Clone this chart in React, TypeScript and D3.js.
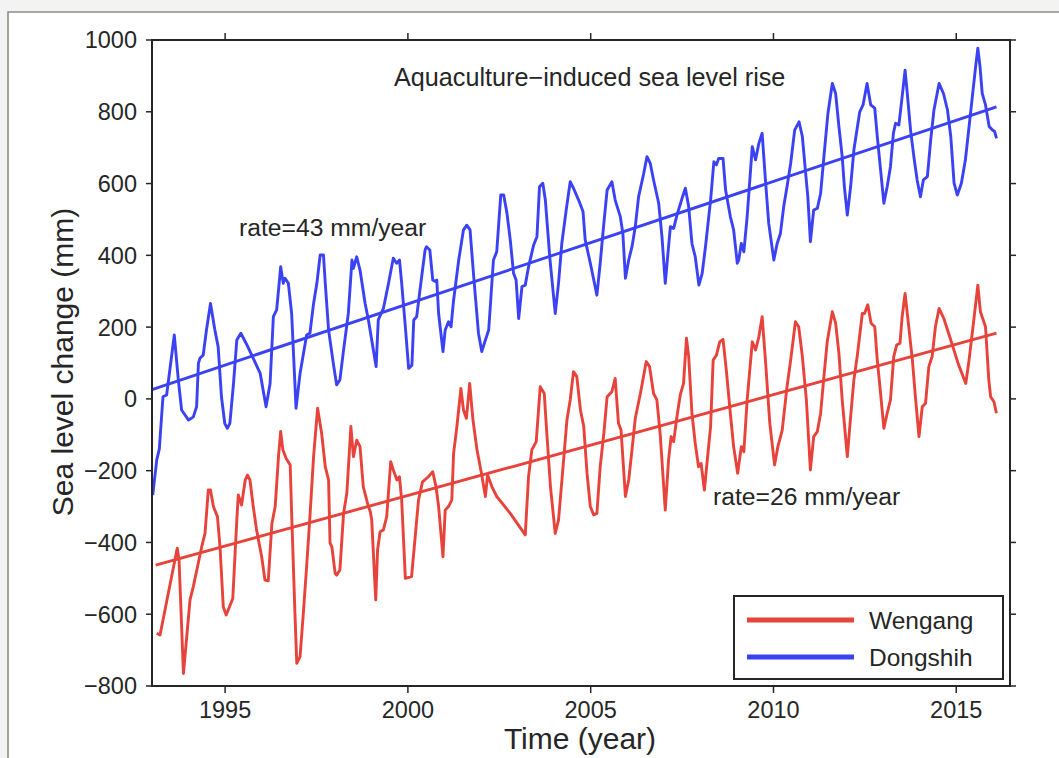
import React from 'react'
import * as d3 from 'd3'

// [decimal year, mm] vertices
const dongshih: [number, number][] = [
  [1993.02, -268], [1993.13, -170], [1993.2, -140], [1993.3, 6], [1993.4, 11], [1993.61, 178],
  [1993.72, 53], [1993.81, -31], [1994.0, -59], [1994.13, -50], [1994.22, -22], [1994.27, 99],
  [1994.31, 113], [1994.4, 122], [1994.49, 192], [1994.6, 266], [1994.72, 192], [1994.81, 145],
  [1994.9, 6], [1994.99, -68], [1995.06, -82], [1995.13, -68], [1995.23, 43], [1995.32, 164],
  [1995.43, 183], [1995.6, 150], [1995.77, 113], [1995.96, 71], [1996.12, -22], [1996.23, 43],
  [1996.32, 229], [1996.41, 248], [1996.52, 368], [1996.59, 322], [1996.64, 336], [1996.73, 322],
  [1996.82, 238], [1996.94, -26], [1997.05, 71], [1997.23, 178], [1997.32, 183], [1997.42, 266],
  [1997.51, 322], [1997.6, 401], [1997.69, 401], [1997.74, 322], [1997.83, 192], [1997.96, 99],
  [1998.05, 39], [1998.14, 53], [1998.24, 136], [1998.37, 238], [1998.47, 387], [1998.51, 364],
  [1998.6, 396], [1998.69, 359], [1998.83, 266], [1998.92, 220], [1999.01, 164], [1999.13, 90],
  [1999.19, 220], [1999.33, 252], [1999.47, 322], [1999.6, 392], [1999.69, 378], [1999.77, 387],
  [1999.83, 322], [1999.93, 201], [2000.02, 85], [2000.11, 94], [2000.16, 220], [2000.24, 229],
  [2000.33, 303], [2000.47, 415], [2000.51, 424], [2000.6, 415], [2000.68, 331], [2000.75, 327],
  [2000.79, 331], [2000.84, 238], [2000.96, 132], [2001.02, 192], [2001.11, 215], [2001.18, 201],
  [2001.25, 275], [2001.39, 387], [2001.52, 471], [2001.61, 484], [2001.7, 471], [2001.8, 341],
  [2001.93, 183], [2002.02, 132], [2002.12, 164], [2002.21, 192], [2002.34, 387], [2002.43, 410],
  [2002.54, 568], [2002.62, 568], [2002.71, 517], [2002.8, 443], [2002.89, 350], [2002.96, 331],
  [2003.03, 224], [2003.12, 313], [2003.21, 317], [2003.3, 368], [2003.44, 429], [2003.53, 452],
  [2003.6, 591], [2003.69, 601], [2003.76, 554], [2003.88, 396], [2004.03, 238], [2004.12, 322],
  [2004.21, 433], [2004.33, 526], [2004.44, 605], [2004.53, 587], [2004.67, 554], [2004.79, 522],
  [2004.85, 443], [2004.99, 378], [2005.17, 289], [2005.26, 378], [2005.36, 489], [2005.45, 582],
  [2005.58, 605], [2005.67, 554], [2005.81, 508], [2005.88, 461], [2005.95, 336], [2006.04, 387],
  [2006.13, 424], [2006.22, 480], [2006.31, 563], [2006.45, 628], [2006.54, 675], [2006.63, 656],
  [2006.72, 610], [2006.86, 545], [2006.95, 452], [2007.04, 322], [2007.13, 424], [2007.18, 480],
  [2007.27, 475], [2007.36, 512], [2007.5, 559], [2007.59, 587], [2007.68, 536], [2007.77, 433],
  [2007.86, 396], [2007.96, 317], [2008.05, 350], [2008.14, 424], [2008.28, 554], [2008.37, 661],
  [2008.44, 652], [2008.5, 670], [2008.62, 670], [2008.69, 582], [2008.82, 508], [2008.91, 471],
  [2009.01, 378], [2009.05, 387], [2009.12, 433], [2009.19, 410], [2009.28, 508], [2009.42, 703],
  [2009.51, 666], [2009.6, 712], [2009.69, 740], [2009.78, 610], [2009.87, 489], [2010.01, 387],
  [2010.1, 433], [2010.19, 461], [2010.28, 536], [2010.37, 591], [2010.47, 656], [2010.58, 749],
  [2010.7, 772], [2010.79, 731], [2010.88, 629], [2010.94, 563], [2011.01, 438], [2011.1, 526],
  [2011.2, 531], [2011.29, 573], [2011.38, 675], [2011.49, 796], [2011.61, 879], [2011.7, 851],
  [2011.79, 759], [2011.88, 675], [2011.94, 591], [2012.02, 512], [2012.11, 591], [2012.2, 694],
  [2012.36, 800], [2012.45, 819], [2012.56, 879], [2012.66, 819], [2012.77, 810], [2012.84, 731],
  [2012.93, 638], [2013.02, 545], [2013.11, 591], [2013.2, 647], [2013.28, 740], [2013.34, 768],
  [2013.43, 763], [2013.52, 842], [2013.6, 916], [2013.66, 851], [2013.75, 749], [2013.84, 675],
  [2013.93, 610], [2014.02, 563], [2014.1, 610], [2014.21, 619], [2014.3, 721], [2014.39, 805],
  [2014.53, 879], [2014.65, 851], [2014.76, 805], [2014.85, 731], [2014.94, 601], [2015.03, 568],
  [2015.14, 601], [2015.25, 666], [2015.37, 777], [2015.44, 842], [2015.53, 926], [2015.59, 977],
  [2015.65, 926], [2015.71, 851], [2015.8, 819], [2015.9, 759], [2015.99, 749], [2016.05, 745],
  [2016.1, 726],
]

const wengang: [number, number][] = [
  [1993.13, -653], [1993.22, -658], [1993.69, -416], [1993.74, -449], [1993.86, -765], [1994.04, -560],
  [1994.13, -523], [1994.36, -412], [1994.45, -375], [1994.54, -254], [1994.6, -254], [1994.68, -300],
  [1994.79, -328], [1994.86, -412], [1994.95, -579], [1995.03, -602], [1995.12, -579], [1995.21, -556],
  [1995.32, -337], [1995.36, -268], [1995.45, -296], [1995.55, -226], [1995.61, -212], [1995.68, -226],
  [1995.77, -300], [1995.86, -365], [1996.0, -440], [1996.09, -505], [1996.18, -507], [1996.28, -347],
  [1996.37, -300], [1996.46, -161], [1996.52, -91], [1996.58, -142], [1996.67, -166], [1996.78, -184],
  [1996.82, -319], [1996.91, -597], [1996.96, -737], [1997.05, -718], [1997.14, -597], [1997.23, -467],
  [1997.32, -328], [1997.42, -161], [1997.53, -26], [1997.64, -96], [1997.74, -189], [1997.83, -226],
  [1997.87, -402], [1997.92, -412], [1998.01, -486], [1998.05, -491], [1998.14, -477], [1998.24, -319],
  [1998.33, -263], [1998.44, -77], [1998.51, -161], [1998.6, -115], [1998.69, -133], [1998.78, -245],
  [1998.92, -300], [1998.97, -314], [1999.01, -337], [1999.12, -560], [1999.17, -421], [1999.24, -370],
  [1999.33, -365], [1999.42, -328], [1999.53, -175], [1999.6, -198], [1999.7, -226], [1999.77, -217],
  [1999.83, -282], [1999.93, -500], [2000.1, -495], [2000.2, -384], [2000.29, -282], [2000.4, -231],
  [2000.56, -217], [2000.68, -203], [2000.77, -245], [2000.84, -300], [2000.96, -440], [2001.02, -310],
  [2001.11, -300], [2001.2, -282], [2001.25, -152], [2001.34, -77], [2001.45, 29], [2001.52, -31],
  [2001.6, -54], [2001.69, 43], [2001.78, -59], [2001.89, -142], [2002.02, -212], [2002.12, -272],
  [2002.18, -212], [2002.3, -245], [2002.43, -272], [2002.8, -319], [2003.21, -379], [2003.3, -217],
  [2003.39, -142], [2003.51, -119], [2003.62, 34], [2003.73, 15], [2003.8, -96], [2003.9, -245],
  [2004.03, -375], [2004.12, -338], [2004.26, -170], [2004.35, -59], [2004.44, -3], [2004.53, 76],
  [2004.62, 62], [2004.72, -31], [2004.81, -77], [2004.9, -207], [2004.99, -300], [2005.08, -323],
  [2005.17, -319], [2005.26, -189], [2005.36, -96], [2005.45, 6], [2005.58, 20], [2005.67, 57],
  [2005.76, -68], [2005.83, -87], [2005.95, -272], [2006.04, -226], [2006.13, -142], [2006.22, -54],
  [2006.36, 15], [2006.52, 104], [2006.61, 90], [2006.72, 15], [2006.81, -3], [2006.9, -96],
  [2007.04, -310], [2007.13, -170], [2007.2, -105], [2007.27, -119], [2007.36, -49], [2007.45, 11],
  [2007.54, 43], [2007.62, 169], [2007.68, 118], [2007.77, -40], [2007.86, -124], [2007.95, -189],
  [2008.02, -180], [2008.11, -254], [2008.18, -180], [2008.28, -77], [2008.35, 108], [2008.44, 122],
  [2008.53, 159], [2008.62, 166], [2008.71, 80], [2008.82, -40], [2008.91, -133], [2009.02, -207],
  [2009.12, -133], [2009.19, -147], [2009.28, -3], [2009.42, 159], [2009.51, 136], [2009.6, 173],
  [2009.69, 229], [2009.78, 108], [2009.9, -68], [2010.03, -184], [2010.12, -133], [2010.24, -87],
  [2010.37, 34], [2010.47, 108], [2010.6, 215], [2010.69, 201], [2010.79, 118], [2010.9, -3],
  [2011.01, -198], [2011.1, -105], [2011.2, -91], [2011.29, -40], [2011.38, 62], [2011.47, 159],
  [2011.61, 243], [2011.7, 211], [2011.79, 127], [2011.88, -3], [2012.02, -161], [2012.11, -50],
  [2012.2, 53], [2012.29, 118], [2012.43, 238], [2012.49, 238], [2012.58, 262], [2012.67, 211],
  [2012.77, 201], [2012.84, 108], [2012.93, 15], [2013.02, -82], [2013.11, -40], [2013.2, -3],
  [2013.29, 118], [2013.37, 150], [2013.46, 155], [2013.52, 229], [2013.6, 294], [2013.7, 201],
  [2013.8, 108], [2013.89, -3], [2013.98, -105], [2014.07, -22], [2014.16, -12], [2014.25, 90],
  [2014.34, 118], [2014.43, 201], [2014.53, 252], [2014.66, 224], [2014.85, 164], [2015.05, 99],
  [2015.26, 43], [2015.35, 108], [2015.47, 211], [2015.59, 317], [2015.66, 243], [2015.8, 201],
  [2015.89, 53], [2015.94, 6], [2016.03, -8], [2016.1, -40],
]

// fitted trend end points
const dongshihTrend: [number, number][] = [[1993.0, 26], [2016.1, 814]]
const wengangTrend: [number, number][] = [[1993.1, -463], [2016.1, 183]]

const xTicks = [1995, 2000, 2005, 2010, 2015]
const yTicks = [-800, -600, -400, -200, 0, 200, 400, 600, 800, 1000]

const series = [
  { name: 'Wengang', color: '#e8433b', data: wengang, trend: wengangTrend },
  { name: 'Dongshih', color: '#3b42f3', data: dongshih, trend: dongshihTrend },
]

const font = '"Liberation Sans", Arial, Helvetica, sans-serif'
const ink = '#262626'

const App = () => {
  const width = 1059
  const height = 758
  const left = 152, right = 1010, top = 40, bottom = 686

  const x = d3.scaleLinear().domain([1993, 2016.47]).range([left, right])
  const y = d3.scaleLinear().domain([-800, 1000]).range([bottom, top])
  const line = d3.line<[number, number]>().x(d => x(d[0])).y(d => y(d[1]))

  return (
    <svg width={width} height={height} style={{ position: 'absolute', left: 0, top: 0, background: '#fff' }}
      fontFamily={font}>
      {/* page frame */}
      <rect x={0} y={0} width={width} height={11} fill='#f3f3f3' />
      <rect x={0} y={0} width={7} height={height} fill='#f3f3f3' />
      <path d={`M8,${height} L8,12 L${width},12`} fill='none' stroke='#8c8c80' strokeWidth={1.6} />

      {series.map(s => (
        <g key={s.name}>
          <path d={line(s.data) ?? ''} fill='none' stroke={s.color} strokeWidth={2.9} strokeLinejoin='round' />
          <path d={line(s.trend) ?? ''} fill='none' stroke={s.color} strokeWidth={2.9} />
        </g>
      ))}

      {/* frame and ticks */}
      <rect x={left} y={top} width={right - left} height={bottom - top} fill='none' stroke={ink} strokeWidth={2} />
      {yTicks.map(t => (
        <g key={t}>
          <line x1={left - 6} x2={left} y1={y(t)} y2={y(t)} stroke={ink} strokeWidth={1.5} />
          <line x1={right} x2={right + 6} y1={y(t)} y2={y(t)} stroke={ink} strokeWidth={1.5} />
          <text x={left - 15} y={y(t)} dy='0.36em' textAnchor='end' fontSize={23.5} fill={ink}>
            {t < 0 ? `\u2212${-t}` : t}
          </text>
        </g>
      ))}
      {xTicks.map(t => (
        <g key={t}>
          <line x1={x(t)} x2={x(t)} y1={bottom} y2={bottom + 7} stroke={ink} strokeWidth={1.5} />
          <line x1={x(t)} x2={x(t)} y1={top - 7} y2={top} stroke={ink} strokeWidth={1.5} />
          <text x={x(t)} y={718} textAnchor='middle' fontSize={23.5} fill={ink}>{t}</text>
        </g>
      ))}

      <text x={580} y={749} textAnchor='middle' fontSize={30} fill={ink}>Time (year)</text>
      <text transform={`translate(73,362) rotate(-90)`} textAnchor='middle' fontSize={30} fill={ink}>
        Sea level change (mm)
      </text>

      <text x={394} y={86} fontSize={25.2} fill={ink}>Aquaculture{'\u2212'}induced sea level rise</text>
      <text x={239} y={236} fontSize={24.7} fill={ink}>rate=43 mm/year</text>
      <text x={713} y={505} fontSize={24.7} fill={ink}>rate=26 mm/year</text>

      {/* legend */}
      <rect x={734} y={596} width={269} height={83} fill='#fff' stroke={ink} strokeWidth={2} />
      {series.map((s, i) => (
        <g key={s.name} transform={`translate(0,${620 + i * 37})`}>
          <line x1={747} x2={854} y1={0} y2={0} stroke={s.color} strokeWidth={5} />
          <text x={869} y={0} dy='0.36em' fontSize={24.5} fill={ink}>{s.name}</text>
        </g>
      ))}
    </svg>
  )
}

export default App
